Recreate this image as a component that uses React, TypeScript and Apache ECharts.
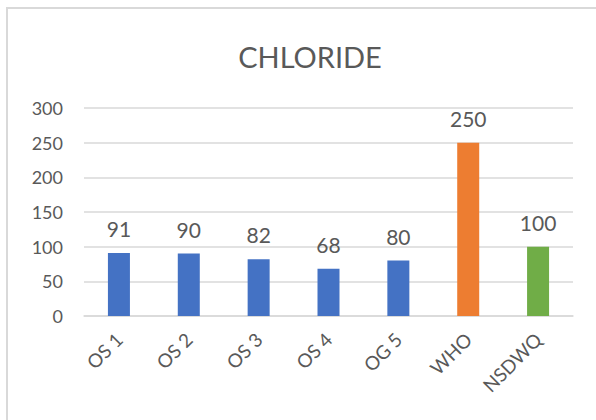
import React, { useEffect, useRef } from "react";
import * as echarts from "echarts";

const categories = ["OS 1", "OS 2", "OS 3", "OS 4", "OG 5", "WHO", "NSDWQ"];
const values = [91, 90, 82, 68, 80, 250, 100];
const barColors = ["#4472C4", "#4472C4", "#4472C4", "#4472C4", "#4472C4", "#ED7D31", "#70AD47"];
const yTicks = { min: 0, max: 300, interval: 50 };

const FONT = "Lato, 'Open Sans', sans-serif";
const TEXT = "#595959";

export default function App() {
  const ref = useRef<HTMLDivElement>(null);

  useEffect(() => {
    if (!ref.current) return;
    const chart = echarts.init(ref.current, null, { renderer: "svg" });
    chart.setOption({
      animation: false,
      title: {
        text: "CHLORIDE",
        left: 305,
        top: 37,
        textAlign: "center",
        textStyle: { fontFamily: FONT, fontSize: 29, fontWeight: "normal", color: TEXT },
      },
      graphic: [
        {
          type: "rect",
          shape: { x: 7, y: 8, width: 640, height: 460 },
          style: { fill: "none", stroke: "#D9D9D9", lineWidth: 2 },
          silent: true,
        },
      ],
      grid: { left: 84, right: 23, top: 108, bottom: 104, containLabel: false },
      xAxis: {
        type: "category",
        data: categories,
        axisLine: { show: true, lineStyle: { color: "#D9D9D9", width: 1.5 } },
        axisTick: { show: false },
        axisLabel: {
          rotate: 45,
          margin: 20,
          fontFamily: FONT,
          fontSize: 19,
          color: TEXT,
          interval: 0,
        },
      },
      yAxis: {
        type: "value",
        min: yTicks.min,
        max: yTicks.max,
        interval: yTicks.interval,
        axisLine: { show: false },
        axisTick: { show: false },
        splitLine: { lineStyle: { color: "#D9D9D9", width: 1.5 } },
        axisLabel: { fontFamily: FONT, fontSize: 18, color: TEXT, margin: 21 },
      },
      series: [
        {
          type: "bar",
          barWidth: 22,
          data: values.map((v, i) => ({ value: v, itemStyle: { color: barColors[i] } })),
          label: {
            show: true,
            position: "top",
            distance: 14,
            fontFamily: FONT,
            fontSize: 21,
            color: TEXT,
          },
        },
      ],
    });
    return () => chart.dispose();
  }, []);

  return (
    <div
      ref={ref}
      style={{ position: "fixed", left: 0, top: 0, width: 596, height: 420, background: "#fff" }}
    />
  );
}
